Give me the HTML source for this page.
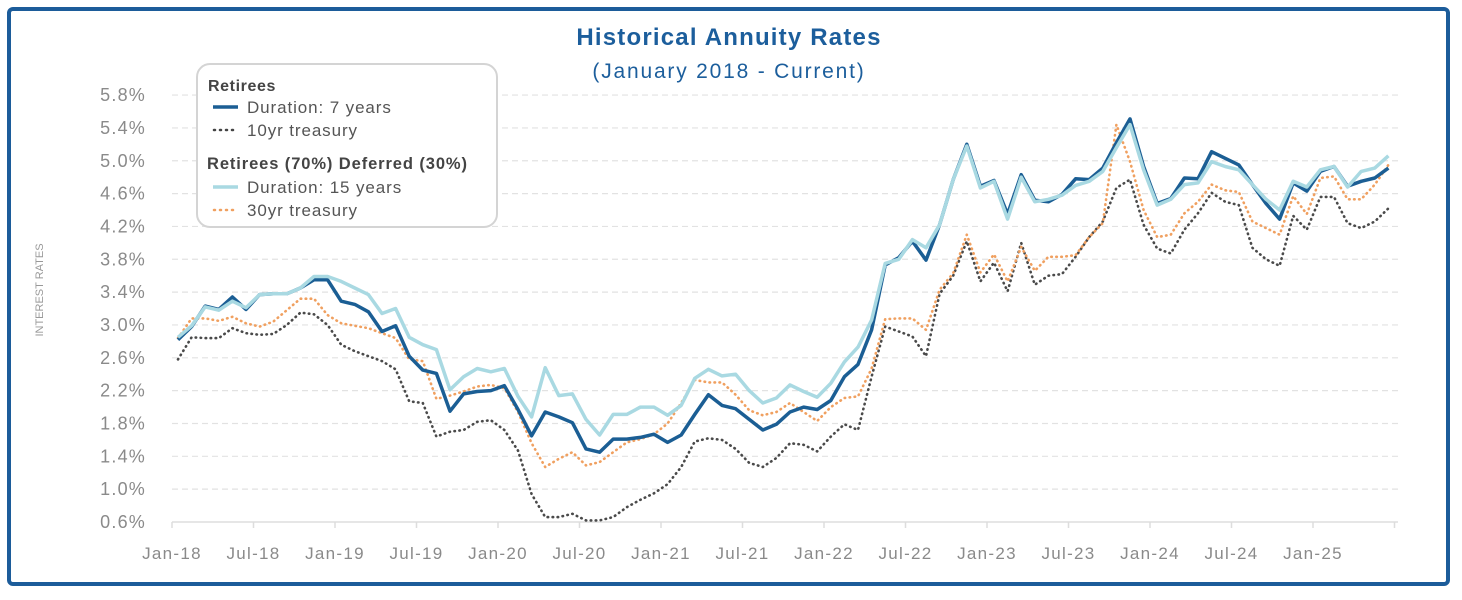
<!DOCTYPE html>
<html><head><meta charset="utf-8"><style>
html,body{margin:0;padding:0;background:#fff;}
body{width:1462px;height:595px;overflow:hidden;font-family:"Liberation Sans",sans-serif;}
</style></head><body>
<svg width="1462" height="595" xmlns="http://www.w3.org/2000/svg">
<rect x="9" y="9" width="1439" height="575" rx="4" fill="#fff" stroke="#1c5c9a" stroke-width="4"/>
<text x="729" y="45" text-anchor="middle" font-size="24" font-weight="bold" letter-spacing="1.2" fill="#1c5e9c">Historical Annuity Rates</text>
<text x="729" y="78" text-anchor="middle" font-size="21" letter-spacing="1.8" fill="#1c5e9c">(January 2018 - Current)</text>
<text transform="translate(43,290) rotate(-90)" text-anchor="middle" font-size="11" fill="#999">INTEREST RATES</text>
<g id="grid"></g><g id="axis"></g><g id="series"></g>
<g>
<rect x="197" y="64" width="300" height="163" rx="13" fill="#fff" stroke="#d4d4d4" stroke-width="2"/>
<text x="208" y="91" font-size="16" font-weight="bold" letter-spacing="0.6" fill="#444">Retirees</text>
<line x1="213" y1="107" x2="238" y2="107" stroke="#1b5e94" stroke-width="3.5"/>
<text x="247" y="113" font-size="17" letter-spacing="0.9" fill="#555">Duration: 7 years</text>
<line x1="214" y1="130" x2="238" y2="130" stroke="#444" stroke-width="2.5" stroke-dasharray="1 5" stroke-linecap="round"/>
<text x="247" y="136" font-size="17" letter-spacing="0.9" fill="#555">10yr treasury</text>
<text x="207" y="169" font-size="16.5" font-weight="bold" letter-spacing="0.9" fill="#444">Retirees (70%) Deferred (30%)</text>
<line x1="213" y1="187" x2="238" y2="187" stroke="#a9d9e2" stroke-width="3.5"/>
<text x="247" y="193" font-size="17" letter-spacing="0.9" fill="#555">Duration: 15 years</text>
<line x1="214" y1="210" x2="238" y2="210" stroke="#f0a060" stroke-width="2.5" stroke-dasharray="1 5" stroke-linecap="round"/>
<text x="247" y="216" font-size="17" letter-spacing="0.9" fill="#555">30yr treasury</text>
</g>
</svg>
<script>
const yTicks=[0.6,1.0,1.4,1.8,2.2,2.6,3.0,3.4,3.8,4.2,4.6,5.0,5.4,5.8];
const xLabels=["Jan-18","Jul-18","Jan-19","Jul-19","Jan-20","Jul-20","Jan-21","Jul-21","Jan-22","Jul-22","Jan-23","Jul-23","Jan-24","Jul-24","Jan-25"];
const dur7=[2.82,2.98,3.23,3.19,3.34,3.19,3.37,3.38,3.38,3.45,3.55,3.55,3.29,3.25,3.16,2.92,2.99,2.62,2.45,2.41,1.95,2.16,2.19,2.20,2.26,1.97,1.65,1.94,1.88,1.81,1.49,1.45,1.61,1.61,1.63,1.67,1.57,1.66,1.91,2.15,2.02,1.98,1.85,1.72,1.79,1.94,2.00,1.97,2.08,2.37,2.52,2.94,3.73,3.82,4.02,3.79,4.22,4.77,5.20,4.69,4.76,4.35,4.83,4.52,4.50,4.59,4.78,4.77,4.91,5.22,5.51,4.93,4.48,4.54,4.79,4.78,5.11,5.03,4.95,4.71,4.48,4.29,4.73,4.63,4.87,4.93,4.69,4.75,4.79,4.91];
const dur15=[2.85,2.99,3.22,3.18,3.29,3.21,3.37,3.38,3.38,3.45,3.59,3.59,3.53,3.45,3.37,3.14,3.20,2.85,2.76,2.70,2.21,2.37,2.47,2.43,2.47,2.13,1.88,2.48,2.14,2.16,1.85,1.66,1.91,1.91,2.00,2.00,1.90,2.02,2.35,2.46,2.38,2.40,2.20,2.05,2.11,2.27,2.19,2.12,2.29,2.55,2.73,3.06,3.75,3.80,4.04,3.94,4.22,4.77,5.18,4.67,4.75,4.29,4.80,4.50,4.53,4.58,4.70,4.75,4.87,5.16,5.44,4.89,4.46,4.53,4.71,4.73,4.99,4.93,4.89,4.71,4.53,4.40,4.75,4.68,4.89,4.93,4.68,4.87,4.91,5.06];
const t30=[2.84,3.08,3.08,3.05,3.10,3.02,2.98,3.04,3.18,3.32,3.32,3.12,3.02,2.99,2.96,2.90,2.84,2.58,2.56,2.10,2.14,2.19,2.25,2.27,2.23,1.94,1.56,1.27,1.37,1.45,1.29,1.33,1.45,1.57,1.61,1.67,1.80,2.05,2.33,2.30,2.30,2.15,1.96,1.90,1.94,2.05,1.94,1.83,2.00,2.11,2.13,2.47,3.07,3.08,3.08,2.94,3.43,3.63,4.10,3.64,3.86,3.53,3.95,3.66,3.83,3.83,3.85,4.07,4.24,5.44,4.99,4.40,4.07,4.10,4.36,4.50,4.71,4.64,4.62,4.26,4.18,4.10,4.57,4.35,4.79,4.81,4.53,4.53,4.71,4.95];
const t10=[2.58,2.85,2.84,2.84,2.96,2.90,2.88,2.89,3.00,3.15,3.13,3.00,2.76,2.68,2.62,2.56,2.46,2.07,2.05,1.64,1.70,1.72,1.82,1.84,1.72,1.47,0.94,0.66,0.66,0.70,0.62,0.62,0.66,0.78,0.87,0.95,1.06,1.27,1.58,1.62,1.60,1.49,1.32,1.27,1.38,1.56,1.54,1.46,1.64,1.79,1.72,2.37,2.98,2.92,2.86,2.62,3.38,3.60,4.02,3.53,3.76,3.41,4.00,3.49,3.60,3.62,3.83,4.07,4.26,4.67,4.77,4.22,3.93,3.87,4.16,4.36,4.61,4.50,4.46,3.94,3.80,3.72,4.33,4.16,4.56,4.56,4.24,4.18,4.26,4.42];
const NS="http://www.w3.org/2000/svg";
const yS=v=>522-(v-0.6)*82.1;
const xS=i=>178+i*13.6;
const xTick=k=>172+k*81.5;
function mk(tag,attrs,parent){const e=document.createElementNS(NS,tag);for(const k in attrs)e.setAttribute(k,attrs[k]);document.getElementById(parent).appendChild(e);return e;}
yTicks.forEach((v,i)=>{
  if(i>0){const g=mk('line',{x1:172,x2:1398,y1:yS(v),y2:yS(v),stroke:'#e2e2e2','stroke-width':1.2,'stroke-dasharray':'6 4'},'grid');
  
  }
  const t=mk('text',{x:146,y:yS(v)+6,'text-anchor':'end','font-size':18,'letter-spacing':1.2,fill:'#8a8a8a'},'axis');
  t.textContent=v.toFixed(1)+'%';
  
  
});
const ax=mk('line',{x1:172,x2:1398,y1:522,y2:522,stroke:'#ddd','stroke-width':1.5},'axis');


xLabels.forEach((l,k)=>{
  const tk=mk('line',{x1:xTick(k),x2:xTick(k),y1:522,y2:528,stroke:'#ddd','stroke-width':1.5},'axis');
  
  
  const t=mk('text',{x:xTick(k),y:559,'text-anchor':'middle','font-size':17,'letter-spacing':1.3,fill:'#8a8a8a'},'axis');
  t.textContent=l;
  
  
});
const tk2=mk('line',{x1:xTick(15),x2:xTick(15),y1:522,y2:528,stroke:'#ddd','stroke-width':1.5},'axis');


function series(data,name,attrs){
  const d=data.map((v,i)=>(i?'L':'M')+xS(i).toFixed(1)+','+yS(v).toFixed(1)).join('');
  const p=mk('path',Object.assign({d:d,fill:'none','stroke-linejoin':'round'},attrs),'series');
  
  
}
series(t10,'series-10yr-treasury',{stroke:'#4a4a4a','stroke-width':2.6,'stroke-dasharray':'0.5 4.5','stroke-linecap':'round'});
series(t30,'series-30yr-treasury',{stroke:'#f0a060','stroke-width':2.6,'stroke-dasharray':'0.5 4.5','stroke-linecap':'round'});
series(dur7,'series-duration-7yr',{stroke:'#1b5e94','stroke-width':3.5});
series(dur15,'series-duration-15yr',{stroke:'#a9d9e2','stroke-width':3.5});
</script>
</body></html>
